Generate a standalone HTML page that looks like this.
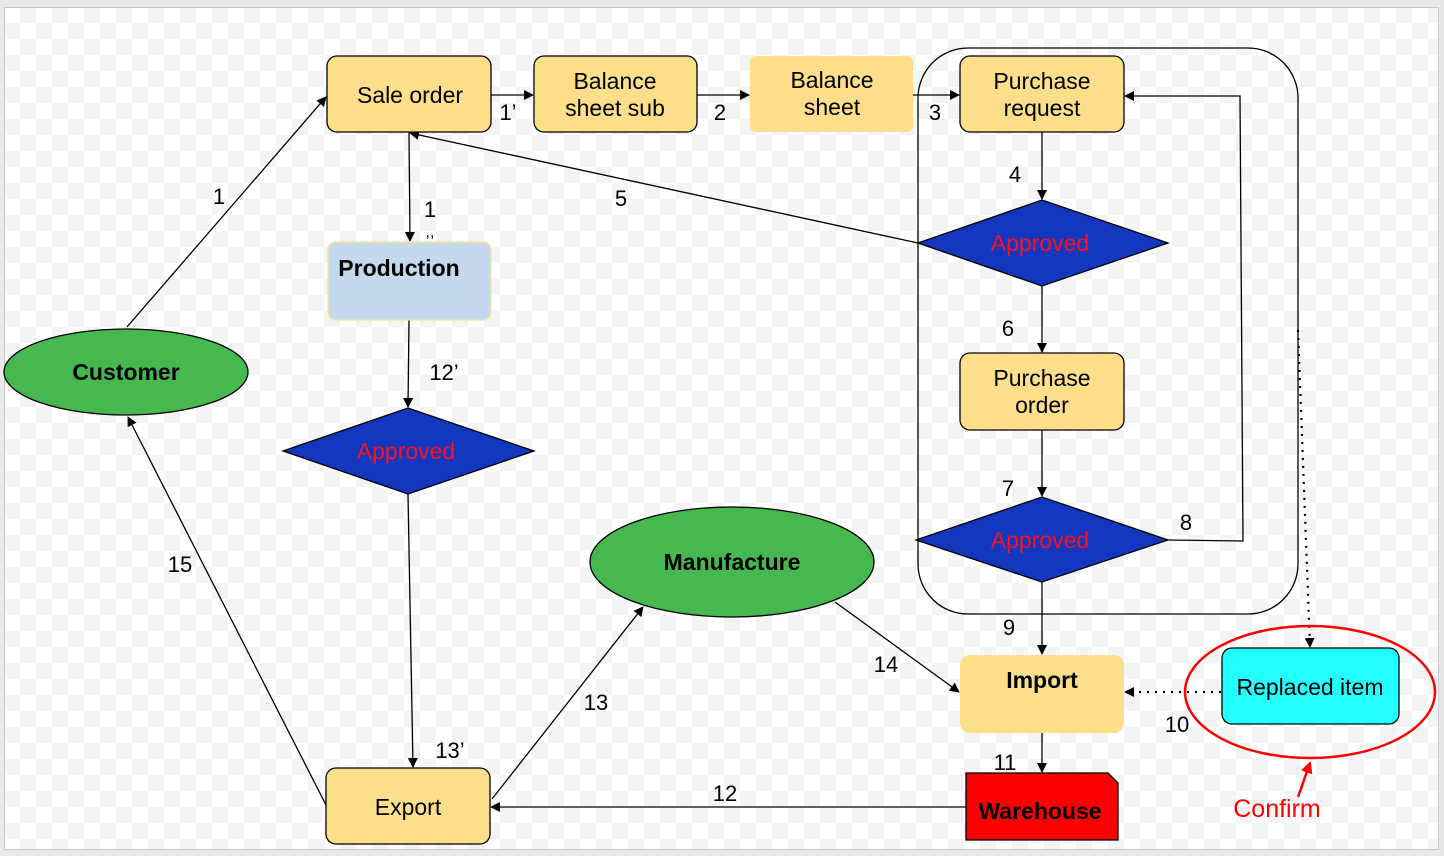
<!DOCTYPE html>
<html><head><meta charset="utf-8"><style>
html,body{margin:0;padding:0;background:#e9e9e9;}
svg{display:block;}
text{font-family:"Liberation Sans",Arial,sans-serif;}
</style></head><body>
<svg width="1444" height="856" viewBox="0 0 1444 856" xmlns="http://www.w3.org/2000/svg">
<defs>
<pattern id="chk" x="4" y="7" width="32" height="32" patternUnits="userSpaceOnUse">
<rect width="32" height="32" fill="#ffffff"/>
<rect x="16" y="0" width="16" height="16" fill="#f4f4f4"/>
<rect x="0" y="16" width="16" height="16" fill="#f4f4f4"/>
</pattern>
<marker id="ar" markerWidth="10" markerHeight="10" refX="9" refY="5" orient="auto" markerUnits="userSpaceOnUse">
<path d="M0,0 L10,5 L0,10 z" fill="#000"/></marker>
<marker id="arr" markerWidth="12" markerHeight="12" refX="10" refY="6" orient="auto" markerUnits="userSpaceOnUse">
<path d="M0,0 L12,6 L0,12 z" fill="#f00"/></marker>
</defs>
<rect x="0" y="0" width="1444" height="856" fill="#e9e9e9"/>
<rect x="4.5" y="7.5" width="1434" height="842" fill="url(#chk)" stroke="#c8c8c8"/>

<rect x="918" y="48" width="380" height="566" rx="50" fill="none" stroke="#000" stroke-width="1.3"/>

<g stroke="#000" stroke-width="1.3" fill="none">
<line x1="127" y1="327" x2="326" y2="97" marker-end="url(#ar)"/>
<line x1="491" y1="95" x2="533" y2="95" marker-end="url(#ar)"/>
<line x1="697" y1="95" x2="749" y2="95" marker-end="url(#ar)"/>
<line x1="913" y1="95" x2="959" y2="95" marker-end="url(#ar)"/>
<line x1="409" y1="132" x2="410" y2="241" marker-end="url(#ar)"/>
<line x1="918" y1="243" x2="410" y2="133" marker-end="url(#ar)"/>
<line x1="1042" y1="132" x2="1042" y2="199" marker-end="url(#ar)"/>
<line x1="1042" y1="286" x2="1042" y2="352" marker-end="url(#ar)"/>
<line x1="1042" y1="430" x2="1042" y2="496" marker-end="url(#ar)"/>
<polyline points="1168,540 1243,541 1240,96 1125,96" marker-end="url(#ar)"/>
<line x1="1042" y1="582" x2="1042" y2="654" marker-end="url(#ar)"/>
<line x1="409" y1="320" x2="408" y2="407" marker-end="url(#ar)"/>
<line x1="408" y1="494" x2="413" y2="767" marker-end="url(#ar)"/>
<line x1="492" y1="799" x2="643" y2="607" marker-end="url(#ar)"/>
<line x1="835" y1="602" x2="959" y2="692" marker-end="url(#ar)"/>
<line x1="1042" y1="733" x2="1042" y2="772" marker-end="url(#ar)"/>
<line x1="966" y1="807" x2="491" y2="807" marker-end="url(#ar)"/>
<line x1="326" y1="805" x2="128" y2="417" marker-end="url(#ar)"/>
<line x1="1221" y1="692" x2="1125" y2="692" stroke-dasharray="2,6" stroke-width="2.2" marker-end="url(#ar)"/>
<line x1="1298" y1="330" x2="1310" y2="647" stroke-dasharray="2,6" stroke-width="2.2" marker-end="url(#ar)"/>
</g>

<g stroke="#000" stroke-width="1.3">
<rect x="327" y="56" width="164" height="76" rx="10" fill="#fddf8b"/>
<rect x="534" y="56" width="163" height="76" rx="10" fill="#fddf8b"/>
<rect x="750" y="56" width="163" height="76" rx="6" fill="#fddf8b" stroke="none"/>
<rect x="960" y="56" width="164" height="76" rx="10" fill="#fddf8b"/>
<rect x="960" y="353" width="164" height="77" rx="10" fill="#fddf8b"/>
<rect x="960" y="655" width="164" height="78" rx="10" fill="#fddf8b" stroke="none"/>
<rect x="328" y="242" width="163" height="78" rx="8" fill="#c5d9ee" stroke="#f7e39a"/>
<rect x="326" y="768" width="164" height="76" rx="10" fill="#fddf8b"/>
<rect x="1222" y="648" width="177" height="76" rx="10" fill="#22ffff"/>
<path d="M966,773 H1108 L1118,783 V840 H966 Z" fill="#fb0000"/>
<polygon points="918,243 1042,200 1168,243 1042,286" fill="#1236bd"/>
<polygon points="916,540 1042,497 1168,540 1042,582" fill="#1236bd"/>
<polygon points="283,451 408,408 534,451 408,494" fill="#1236bd"/>
<ellipse cx="126" cy="372" rx="122" ry="43" fill="#47b84f"/>
<ellipse cx="732" cy="562" rx="142" ry="55" fill="#47b84f"/>
</g>
<ellipse cx="1310" cy="692" rx="125" ry="66" fill="none" stroke="#f00" stroke-width="2.5"/>
<line x1="1298" y1="797" x2="1310" y2="763" stroke="#f00" stroke-width="2.5" marker-end="url(#arr)"/>

<g font-size="23" text-anchor="middle" fill="#000">
<text x="410" y="103">Sale order</text>
<text x="615" y="89">Balance</text><text x="615" y="116">sheet sub</text>
<text x="832" y="88">Balance</text><text x="832" y="115">sheet</text>
<text x="1042" y="89">Purchase</text><text x="1042" y="116">request</text>
<text x="1042" y="386">Purchase</text><text x="1042" y="413">order</text>
<text x="408" y="815">Export</text>
<text x="1310" y="695">Replaced item</text>
<g font-weight="bold">
<text x="399" y="276">Production</text>
<text x="126" y="380">Customer</text>
<text x="732" y="570">Manufacture</text>
<text x="1042" y="688">Import</text>
<text x="1040" y="819">Warehouse</text>
</g>
<g fill="#ff1020">
<text x="1040" y="251">Approved</text>
<text x="1040" y="548">Approved</text>
<text x="406" y="459">Approved</text>
</g>
<text x="1277" y="817" fill="#f00" font-family="DejaVu Sans,sans-serif" font-size="25">Confirm</text>
</g>
<g font-size="22" text-anchor="middle" fill="#000">
<text x="219" y="204">1</text>
<text x="508" y="120">1’</text>
<text x="720" y="120">2</text>
<text x="935" y="120">3</text>
<text x="430" y="217">1</text>
<text x="430" y="237" font-size="16">,,</text>
<text x="621" y="206">5</text>
<text x="1015" y="182">4</text>
<text x="1008" y="336">6</text>
<text x="1008" y="496">7</text>
<text x="1186" y="530">8</text>
<text x="1009" y="635">9</text>
<text x="444" y="380">12’</text>
<text x="450" y="758">13’</text>
<text x="596" y="710">13</text>
<text x="886" y="672">14</text>
<text x="1005" y="770">11</text>
<text x="725" y="801">12</text>
<text x="180" y="572">15</text>
<text x="1177" y="732">10</text>
</g>
</svg>
</body></html>
